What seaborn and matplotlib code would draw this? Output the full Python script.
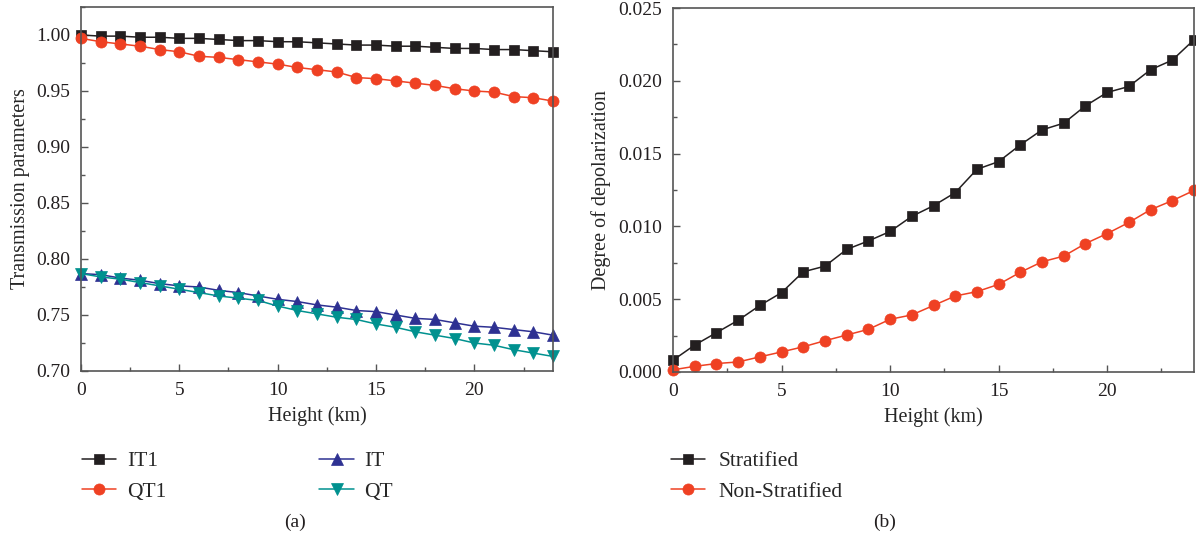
import numpy as np
import pandas as pd
import matplotlib
matplotlib.use("Agg")
import matplotlib.pyplot as plt
from matplotlib.ticker import MultipleLocator
import seaborn as sns

sns.set_theme(style="white")
plt.rcParams['font.family'] = ['Liberation Serif', 'DejaVu Serif']
plt.rcParams['mathtext.fontset'] = 'stix'

height = list(range(25))

it1 = [1.000, 0.999, 0.999, 0.998, 0.998, 0.997, 0.997, 0.996, 0.995, 0.995,
       0.994, 0.994, 0.993, 0.992, 0.991, 0.991, 0.990, 0.990, 0.989, 0.988,
       0.988, 0.987, 0.987, 0.986, 0.985]
qt1 = [0.997, 0.994, 0.992, 0.990, 0.987, 0.985, 0.981, 0.980, 0.978, 0.976,
       0.974, 0.971, 0.969, 0.967, 0.962, 0.961, 0.959, 0.957, 0.955, 0.952,
       0.950, 0.949, 0.945, 0.944, 0.941]
it = [0.787, 0.786, 0.783, 0.781, 0.778, 0.776, 0.775, 0.772, 0.770, 0.767,
      0.764, 0.762, 0.759, 0.757, 0.754, 0.753, 0.750, 0.747, 0.746, 0.743,
      0.740, 0.739, 0.737, 0.735, 0.732]
qt = [0.787, 0.784, 0.782, 0.779, 0.776, 0.773, 0.770, 0.767, 0.765, 0.763,
      0.758, 0.754, 0.751, 0.748, 0.746, 0.742, 0.739, 0.735, 0.732, 0.729,
      0.725, 0.723, 0.719, 0.716, 0.713]

stratified = [0.00081, 0.00185, 0.00270, 0.00355, 0.00457, 0.00545, 0.00688,
              0.00727, 0.00842, 0.00900, 0.00965, 0.01069, 0.01142, 0.01232,
              0.01392, 0.01445, 0.01560, 0.01663, 0.01709, 0.01828, 0.01920,
              0.01961, 0.02076, 0.02142, 0.02282]
non_stratified = [0.00015, 0.00039, 0.00058, 0.00069, 0.00104, 0.00138, 0.00173,
                  0.00215, 0.00254, 0.00293, 0.00362, 0.00392, 0.00457, 0.00522,
                  0.00552, 0.00602, 0.00685, 0.00757, 0.00796, 0.00882, 0.00951,
                  0.01027, 0.01115, 0.01177, 0.01247]

BLACK = "#231f20"
RED = "#ef4123"
BLUE = "#2e3192"
TEAL = "#00918f"
SPINE = "#555555"

fig = plt.figure(figsize=(11.96, 5.43), dpi=100)
ax1 = fig.add_axes([81/1196, 1-371/543, 472/1196, 364/543])
ax2 = fig.add_axes([673/1196, 1-372/543, 521/1196, 364/543])

def series(ax, y, color, marker, label, ms):
    df = pd.DataFrame({"h": height, "v": y})
    sns.lineplot(data=df, x="h", y="v", ax=ax, color=color, marker=marker,
                 markersize=ms, markeredgecolor=color, markeredgewidth=0.5,
                 linewidth=1.1, label=label, legend=False)

series(ax1, it1, BLACK, "s", "IT1", 7)
series(ax1, qt1, RED, "o", "QT1", 8)
series(ax1, it, BLUE, "^", "IT", 8)
series(ax1, qt, TEAL, "v", "QT", 8)

series(ax2, stratified, BLACK, "s", "Stratified", 7)
series(ax2, non_stratified, RED, "o", "Non-Stratified", 8)

ax1.set_xlim(0, 24)
ax1.set_ylim(0.70, 1.025)
ax1.yaxis.set_major_locator(MultipleLocator(0.05))
ax1.yaxis.set_minor_locator(MultipleLocator(0.025))
ax1.yaxis.set_major_formatter(matplotlib.ticker.FormatStrFormatter('%.2f'))
ax1.set_ylabel("Transmission parameters", fontsize=14.5, labelpad=4)

ax2.set_xlim(0, 24)
ax2.set_ylim(0.0, 0.025)
ax2.yaxis.set_major_locator(MultipleLocator(0.005))
ax2.yaxis.set_minor_locator(MultipleLocator(0.0025))
ax2.yaxis.set_major_formatter(matplotlib.ticker.FormatStrFormatter('%.3f'))
ax2.set_ylabel("Degree of depolarization", fontsize=14.5, labelpad=5)

for ax in (ax1, ax2):
    ax.xaxis.set_major_locator(MultipleLocator(5))
    ax.xaxis.set_minor_locator(MultipleLocator(2.5))
    ax.set_xlabel("Height (km)", fontsize=14.5, labelpad=5)
    ax.tick_params(which="both", direction="in", bottom=True, left=True,
                   top=False, right=False, labelsize=14, colors=SPINE,
                   labelcolor="#231f20", width=1.0, pad=8)
    ax.tick_params(which="major", length=5)
    ax.tick_params(which="minor", length=3)
    for s in ax.spines.values():
        s.set_color(SPINE)
        s.set_linewidth(1.2)
    ax.grid(False)
    for l in ax.get_lines():
        l.set_clip_on(False)

h1, l1 = ax1.get_legend_handles_labels()
fig.legend(h1, l1, ncol=2, loc="upper left", bbox_to_anchor=(82/1196, 1-451/543),
           frameon=False, fontsize=15.5, handlelength=1.6, columnspacing=7.1,
           labelspacing=0.5, handletextpad=0.5, borderpad=0, borderaxespad=0)
h2, l2 = ax2.get_legend_handles_labels()
fig.legend(h2, l2, ncol=1, loc="upper left", bbox_to_anchor=(671/1196, 1-451/543),
           frameon=False, fontsize=15.5, handlelength=1.6,
           labelspacing=0.5, handletextpad=0.6, borderpad=0, borderaxespad=0)

fig.text(295/1196, 1-522/543, "(a)", ha="center", va="center", fontsize=14, color="#231f20")
fig.text(885/1196, 1-522/543, "(b)", ha="center", va="center", fontsize=14, color="#231f20")

fig.savefig("out.png", dpi=100)
